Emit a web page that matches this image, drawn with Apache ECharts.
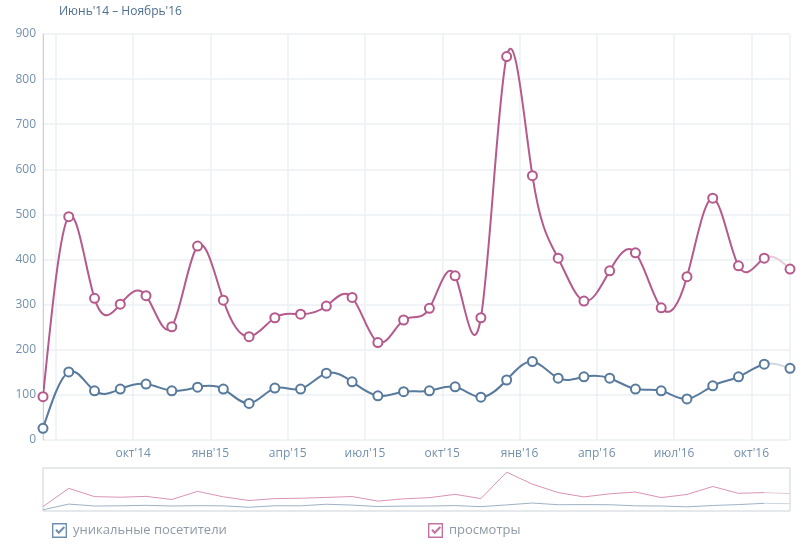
<!DOCTYPE html>
<html>
<head>
<meta charset="utf-8">
<script src="https://cdn.jsdelivr.net/npm/echarts@6/dist/echarts.min.js"></script>
<style>
  html, body { margin: 0; padding: 0; background: #fff; }
  #main { width: 811px; height: 544px; }
</style>
</head>
<body>
<div id="main"></div>
<script>
// months Jun'14 .. Nov'16 (last month is incomplete, drawn faded)
const months = [
  "июн'14", "июл'14", "авг'14", "сен'14", "окт'14", "ноя'14", "дек'14",
  "янв'15", "фев'15", "мар'15", "апр'15", "май'15", "июн'15", "июл'15", "авг'15", "сен'15", "окт'15", "ноя'15", "дек'15",
  "янв'16", "фев'16", "мар'16", "апр'16", "май'16", "июн'16", "июл'16", "авг'16", "сен'16", "окт'16", "ноя'16"
];
const views = [
  96, 495, 314, 301, 320, 251, 430,
  310, 229, 271, 279, 297, 316, 216, 266, 292, 364, 271, 850,
  586, 403, 308, 375, 415, 293, 362, 536, 386, 403, 379
];
const visitors = [
  26, 151, 109, 113, 124, 109, 117,
  113, 81, 115, 113, 148, 129, 98, 107, 109, 118, 95, 133,
  174, 137, 140, 137, 113, 109, 91, 120, 140, 168, 159
];
const xTickLabels = ["окт'14", "янв'15", "апр'15", "июл'15", "окт'15", "янв'16", "апр'16", "июл'16", "окт'16"];
const yTicks = [0, 100, 200, 300, 400, 500, 600, 700, 800, 900];

const NAME_VIS = 'уникальные посетители';
const NAME_VIEWS = 'просмотры';

// x = months since Jan 2014, each point sits mid-month
const START_MONTH = 5;
const toPts = arr => arr.map((v, i) => [START_MONTH + i + 0.5, v]);

const BLUE = '#587a9c', BLUE_LIGHT = '#cdd7e1', BLUE_NAV = '#9db2c6';
const PINK = '#b45a8c', PINK_LIGHT = '#e6cbd9', PINK_NAV = '#d993b6';

// checkbox: four border bars + a check mark (no overlapping sub-paths)
const checkIcon = 'path://M0,0L14,0L14,1.3L0,1.3Z M0,12.7L14,12.7L14,14L0,14Z M0,1.3L1.3,1.3L1.3,12.7L0,12.7Z M12.7,1.3L14,1.3L14,12.7L12.7,12.7Z M3,7L4.5,5.5L6.3,7.6L10.8,3L12.2,4.4L6.3,10.4Z';

// second derivatives of a natural cubic spline (unit spacing)
function splineM(y) {
  const n = y.length, M = new Array(n).fill(0);
  if (n < 3) return M;
  const c = [], d = [];
  for (let i = 1; i < n - 1; i++) {
    const rhs = 6 * (y[i + 1] - 2 * y[i] + y[i - 1]);
    const k = i - 1;
    if (k === 0) { c[k] = 1 / 4; d[k] = rhs / 4; }
    else { const m = 4 - c[k - 1]; c[k] = 1 / m; d[k] = (rhs - d[k - 1]) / m; }
  }
  for (let k = n - 3; k >= 0; k--) {
    M[k + 1] = d[k] - (k < n - 3 ? c[k] * M[k + 2] : 0);
  }
  return M;
}

function splineSeries(name, arr, color, light) {
  const pts = toPts(arr);
  const M = splineM(arr);
  const n = arr.length;
  return {
    name: name, type: 'custom', xAxisIndex: 0, yAxisIndex: 0,
    data: pts, clip: true, z: 2, silent: true,
    renderItem: (params, api) => {
      const i = params.dataIndex;
      if (i >= n - 1) return null;
      const d = arr[i + 1] - arr[i];
      const sL = d - (2 * M[i] + M[i + 1]) / 6;
      const sR = d + (M[i] + 2 * M[i + 1]) / 6;
      const p0 = api.coord(pts[i]);
      const p1 = api.coord([pts[i][0] + 1 / 3, arr[i] + sL / 3]);
      const p2 = api.coord([pts[i + 1][0] - 1 / 3, arr[i + 1] - sR / 3]);
      const p3 = api.coord(pts[i + 1]);
      return {
        type: 'bezierCurve',
        shape: { x1: p0[0], y1: p0[1], cpx1: p1[0], cpy1: p1[1], cpx2: p2[0], cpy2: p2[1], x2: p3[0], y2: p3[1] },
        style: { stroke: i === n - 2 ? light : color, lineWidth: 2, fill: null }
      };
    }
  };
}

function markerSeries(name, arr, color) {
  return {
    name: name, type: 'line', xAxisIndex: 0, yAxisIndex: 0,
    data: toPts(arr),
    symbol: 'circle', symbolSize: 9, showSymbol: true,
    lineStyle: { width: 0, opacity: 0 },
    itemStyle: { color: '#fff', borderColor: color, borderWidth: 2 },
    z: 3
  };
}

function navSeries(name, arr, color, light) {
  const pts = toPts(arr);
  return [
    {
      name: name, type: 'line', xAxisIndex: 1, yAxisIndex: 1,
      data: pts.slice(-2), showSymbol: false, symbol: 'none',
      lineStyle: { color: light, width: 1 }, itemStyle: { color: color }
    },
    {
      name: name, type: 'line', xAxisIndex: 1, yAxisIndex: 1,
      data: pts.slice(0, -1), showSymbol: false, symbol: 'none',
      lineStyle: { color: color, width: 1 }, itemStyle: { color: color }
    }
  ];
}

const chart = echarts.init(document.getElementById('main'));
const labelColor = '#7390ad';

chart.setOption({
  animation: false,
  backgroundColor: '#ffffff',
  textStyle: { fontFamily: 'Open Sans' },
  title: {
    text: "Июнь'14 – Ноябрь'16",
    left: 54, top: 1,
    textStyle: { fontSize: 12, fontWeight: 'normal', color: '#4f6f8f', fontFamily: 'Open Sans' }
  },
  legend: [
    {
      data: [{ name: NAME_VIS, icon: checkIcon, itemStyle: { color: '#6f8fb2' } }],
      left: 47, top: 518, itemWidth: 15, itemHeight: 15, itemGap: 0,
      textStyle: { color: '#8e9aa6', fontSize: 13, fontFamily: 'Open Sans', padding: [0, 0, 0, 1] }
    },
    {
      data: [{ name: NAME_VIEWS, icon: checkIcon, itemStyle: { color: '#c4729f' } }],
      left: 423, top: 518, itemWidth: 15, itemHeight: 15, itemGap: 0,
      textStyle: { color: '#8e9aa6', fontSize: 13, fontFamily: 'Open Sans', padding: [0, 0, 0, 1] }
    }
  ],
  grid: [
    { left: 43, right: 21, top: 34, bottom: 104, outerBoundsMode: 'none', containLabel: false },
    { left: 43, right: 21, top: 468, bottom: 33, outerBoundsMode: 'none', containLabel: false,
      show: true, borderColor: '#cdd3d9', borderWidth: 1, backgroundColor: 'transparent' }
  ],
  xAxis: [
    {
      type: 'value', gridIndex: 0,
      min: START_MONTH + 0.5, max: START_MONTH + months.length - 0.5,
      minInterval: 3, maxInterval: 3,
      axisLine: { show: false }, axisTick: { show: false },
      splitLine: { show: true, lineStyle: { color: '#edf0f3', width: 1.5 } },
      axisLabel: {
        color: labelColor, fontSize: 12, margin: 8, fontFamily: 'Open Sans',
        showMinLabel: true, showMaxLabel: true,
        formatter: v => {
          const i = v - START_MONTH;
          return Number.isInteger(i) && xTickLabels.includes(months[i]) ? months[i] : '';
        }
      }
    },
    {
      type: 'value', gridIndex: 1,
      min: START_MONTH + 0.5, max: START_MONTH + months.length - 0.5,
      show: false
    }
  ],
  yAxis: [
    {
      type: 'value', gridIndex: 0,
      min: yTicks[0], max: yTicks[yTicks.length - 1], interval: 100,
      axisLine: { show: true, lineStyle: { color: '#c9d0d7', width: 1 } },
      axisTick: { show: false },
      splitLine: { show: true, lineStyle: { color: '#edf0f3', width: 1.5 } },
      axisLabel: { color: labelColor, fontSize: 12, margin: 7, fontFamily: 'Open Sans' }
    },
    {
      type: 'value', gridIndex: 1, min: 0, max: 940, show: false
    }
  ],
  series: [
    splineSeries(NAME_VIEWS, views, PINK, PINK_LIGHT),
    splineSeries(NAME_VIS, visitors, BLUE, BLUE_LIGHT),
    markerSeries(NAME_VIEWS, views, PINK),
    markerSeries(NAME_VIS, visitors, BLUE),
    ...navSeries(NAME_VIEWS, views, PINK_NAV, PINK_LIGHT),
    ...navSeries(NAME_VIS, visitors, BLUE_NAV, BLUE_LIGHT)
  ]
});
</script>
</body>
</html>
